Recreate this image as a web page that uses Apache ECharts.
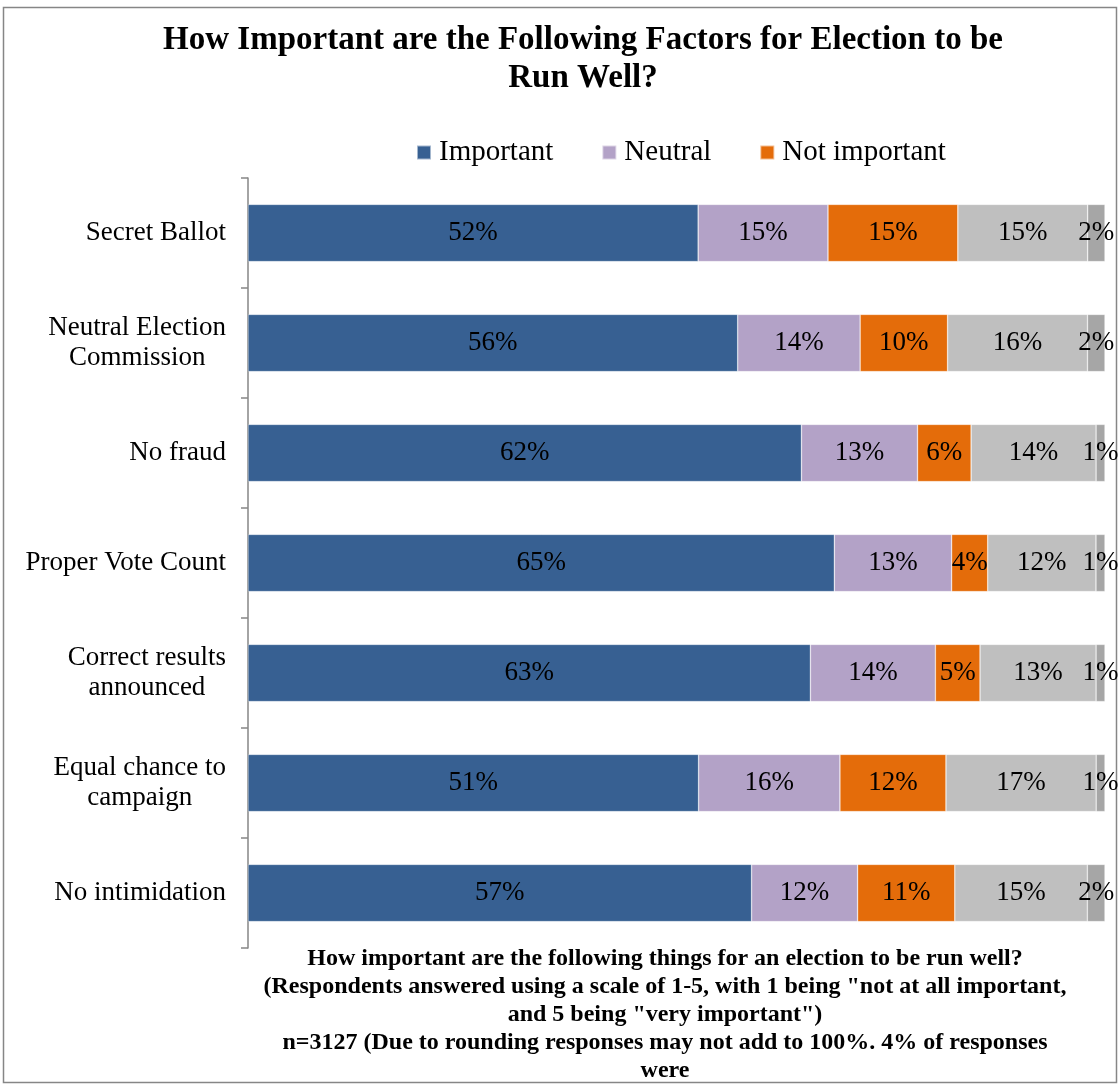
<!DOCTYPE html>
<html>
<head>
<meta charset="utf-8">
<script src="https://cdn.jsdelivr.net/npm/echarts@6/dist/echarts.min.js"></script>
<style>
  html, body { margin: 0; padding: 0; background: #fff; }
  #chart { width: 1120px; height: 1086px; }
</style>
</head>
<body>
<div id="chart"></div>
<script>
// Survey factors, top to bottom
const categories = [
  'Secret Ballot',
  'Neutral Election\nCommission',
  'No fraud',
  'Proper Vote Count',
  'Correct results\nannounced',
  'Equal chance to\ncampaign',
  'No intimidation'
];

// Share of respondents (%) per answer group
const important    = [52, 56, 62, 65, 63, 51, 57];
const neutral      = [15, 14, 13, 13, 14, 16, 12];
const notImportant = [15, 10, 6, 4, 5, 12, 11];
const unsure       = [15, 16, 14, 12, 13, 17, 15];
const noAnswer     = [2, 2, 1, 1, 1, 1, 2];

const seriesDefs = [
  { name: 'Important', values: important, color: '#376092' },
  { name: 'Neutral', values: neutral, color: '#B3A2C7' },
  { name: 'Not important', values: notImportant, color: '#E46C0A' },
  { name: 'Unsure', values: unsure, color: '#BFBFBF' },
  { name: 'No answer', values: noAnswer, color: '#A6A6A6' }
];

// Each bar is drawn as a 100% stack of its row
const rowTotals = categories.map((_, i) =>
  seriesDefs.reduce((s, d) => s + d.values[i], 0));

const serif = "'Liberation Serif', 'DejaVu Serif', serif";

const chart = echarts.init(document.getElementById('chart'), null, { renderer: 'canvas' });

chart.setOption({
  backgroundColor: '#ffffff',
  animation: false,
  title: [
    {
      text: 'How Important are the Following Factors for Election to be\nRun Well?',
      left: 578,
      top: 16,
      textAlign: 'center',
      textStyle: {
        fontFamily: serif,
        fontWeight: 'bold',
        fontSize: 33,
        lineHeight: 38,
        color: '#000'
      }
    },
    {
      text: 'How important are the following things for an election to be run well?\n' +
            '(Respondents answered using a scale of 1-5, with 1 being "not at all important,\n' +
            'and 5 being "very important")\n' +
            'n=3127 (Due to rounding responses may not add to 100%. 4% of responses\n' +
            'were',
      left: 660,
      top: 940,
      textAlign: 'center',
      textStyle: {
        fontFamily: serif,
        fontWeight: 'bold',
        fontSize: 24,
        lineHeight: 28,
        color: '#000'
      }
    }
  ],
  legend: {
    data: ['Important', 'Neutral', 'Not important'],
    left: 411,
    top: 133,
    icon: 'rect',
    itemWidth: 14,
    itemHeight: 14,
    itemGap: 48,
    textStyle: { fontFamily: serif, fontSize: 29, color: '#000', padding: [0, 0, 0, 3] }
  },
  grid: {
    left: 248,
    right: 15,
    top: 178,
    bottom: 138,
    containLabel: false
  },
  xAxis: {
    type: 'value',
    min: 0,
    max: 100,
    show: false
  },
  yAxis: {
    type: 'category',
    data: categories,
    inverse: true,
    axisLine: { show: true, lineStyle: { color: '#868686', width: 1.5 } },
    axisTick: { show: true, length: 7, alignWithLabel: false, lineStyle: { color: '#868686', width: 1.5 } },
    axisLabel: {
      margin: 22,
      formatter: v => v.split('\n').map(l => '{c|' + l + '}').join('\n'),
      rich: {
        c: { align: 'center', fontFamily: serif, fontSize: 27, lineHeight: 30, color: '#000' }
      }
    }
  },
  series: seriesDefs.map(d => ({
    name: d.name,
    type: 'bar',
    stack: 'total',
    barCategoryGap: '48%',
    data: d.values.map((v, i) => ({ value: v / rowTotals[i] * 100, raw: v })),
    itemStyle: { color: d.color, borderColor: 'rgba(255,255,255,0.55)', borderWidth: 0.6 },
    label: {
      show: true,
      position: 'inside',
      formatter: p => p.data.raw + '%',
      fontFamily: serif,
      fontSize: 27,
      color: '#000'
    }
  })),
  graphic: [
    {
      type: 'rect',
      shape: { x: 3.5, y: 7.5, width: 1113, height: 1075 },
      style: { fill: 'none', stroke: '#868686', lineWidth: 1.5 },
      silent: true
    }
  ]
});
</script>
</body>
</html>
